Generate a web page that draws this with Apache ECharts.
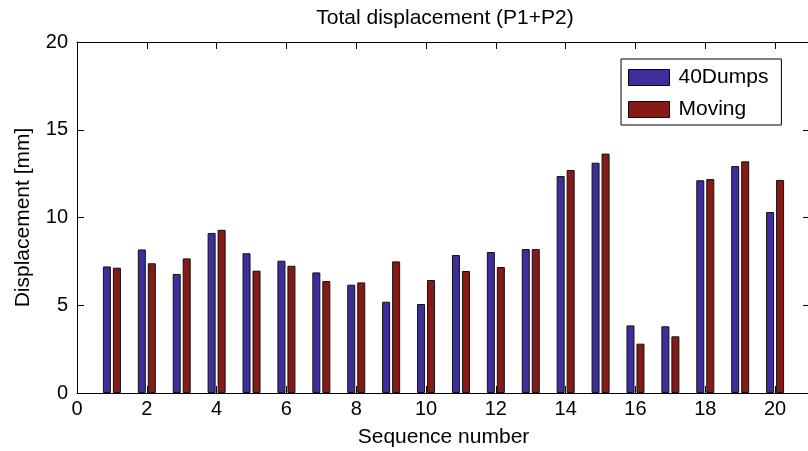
<!DOCTYPE html>
<html>
<head>
<meta charset="utf-8">
<title>Total displacement (P1+P2)</title>
<script src="https://cdn.jsdelivr.net/npm/echarts@6/dist/echarts.min.js"></script>
<style>
  html, body { margin: 0; padding: 0; background: #fff; }
  #chart { width: 808px; height: 451px; }
</style>
</head>
<body>
<div id="chart"></div>
<script>
// Sequence numbers along the x axis
const sequence = [1, 2, 3, 4, 5, 6, 7, 8, 9, 10, 11, 12, 13, 14, 15, 16, 17, 18, 19, 20];
// Total displacement per sequence, in mm
const dumps40 = [7.21, 8.18, 6.78, 9.12, 7.96, 7.54, 6.87, 6.17, 5.20, 5.07,
                 7.86, 8.03, 8.20, 12.36, 13.12, 3.85, 3.80, 12.12, 12.93, 10.31];
const moving  = [7.14, 7.39, 7.67, 9.30, 6.97, 7.25, 6.38, 6.30, 7.50, 6.44,
                 6.95, 7.18, 8.20, 12.71, 13.64, 2.81, 3.23, 12.19, 13.20, 12.14];
const seriesNames = ['40Dumps', 'Moving'];
const yTicks = [0, 5, 10, 15, 20];

const FONT = 'Liberation Sans, Arial, Helvetica, sans-serif';
const BLUE = '#3d2f9b';
const RED = '#861a17';

const pairs = (vals) => sequence.map((s, i) => [s, vals[i]]);

// Box-style axes: black lines, ticks pointing into the plot, never snapped to zero
const axisLine = () => ({ show: true, onZero: false, lineStyle: { color: '#000', width: 1 } });
const tickIn = () => ({ show: true, inside: true, length: 7, lineStyle: { color: '#000', width: 1 } });

const chart = echarts.init(document.getElementById('chart'), null, { renderer: 'canvas' });
chart.setOption({
  animation: false,
  backgroundColor: '#fff',
  title: {
    text: 'Total displacement (P1+P2)',
    left: 445, top: 8, padding: 0, textAlign: 'center',
    textStyle: { fontFamily: FONT, fontSize: 21, fontWeight: 'normal', color: '#000' }
  },
  legend: {
    orient: 'vertical',
    left: 621, top: 59,
    data: seriesNames,
    icon: 'rect',
    itemWidth: 41, itemHeight: 16, itemGap: 11,
    padding: [8, 13, 5, 7],
    borderColor: '#000', borderWidth: 1, borderRadius: 0,
    backgroundColor: '#fff',
    textStyle: { fontFamily: FONT, fontSize: 21, color: '#000', padding: [0, 0, 0, 4] },
    itemStyle: { borderColor: '#000', borderWidth: 1 }
  },
  // Fixed plot rectangle; labels and names are placed around it without resizing it
  grid: { left: 77, right: -2, top: 42, bottom: 58, containLabel: false, outerBoundsMode: 'none' },
  xAxis: [
    {
      type: 'value', position: 'bottom', min: 0, max: 21, interval: 2,
      name: 'Sequence number', nameLocation: 'middle', nameGap: 34,
      nameTextStyle: { fontFamily: FONT, fontSize: 21, color: '#000' },
      axisLine: axisLine(), axisTick: tickIn(),
      axisLabel: { fontFamily: FONT, fontSize: 20, color: '#000', margin: 6, showMaxLabel: false,
                   formatter: (v) => (v > 20 ? '' : String(v)) },
      splitLine: { show: false }
    },
    {
      type: 'value', position: 'top', min: 0, max: 21, interval: 2,
      axisLine: axisLine(), axisTick: tickIn(),
      axisLabel: { show: false }, splitLine: { show: false }
    }
  ],
  yAxis: [
    {
      type: 'value', position: 'left', min: yTicks[0], max: yTicks[yTicks.length - 1], interval: 5,
      name: 'Displacement [mm]', nameLocation: 'middle', nameGap: 43,
      nameTextStyle: { fontFamily: FONT, fontSize: 21, color: '#000' },
      axisLine: axisLine(), axisTick: tickIn(),
      axisLabel: { fontFamily: FONT, fontSize: 20, color: '#000', margin: 9 },
      splitLine: { show: false }
    },
    {
      type: 'value', position: 'right', min: yTicks[0], max: yTicks[yTicks.length - 1], interval: 5,
      axisLine: axisLine(), axisTick: tickIn(),
      axisLabel: { show: false }, splitLine: { show: false }
    }
  ],
  series: [
    {
      name: seriesNames[0], type: 'bar', xAxisIndex: 0, yAxisIndex: 0,
      data: pairs(dumps40), barWidth: 8, barGap: '25%',
      itemStyle: { color: BLUE, borderColor: '#111', borderWidth: 1 }
    },
    {
      name: seriesNames[1], type: 'bar', xAxisIndex: 0, yAxisIndex: 0,
      data: pairs(moving), barWidth: 8, barGap: '25%',
      itemStyle: { color: RED, borderColor: '#111', borderWidth: 1 }
    }
  ]
});
</script>
</body>
</html>
